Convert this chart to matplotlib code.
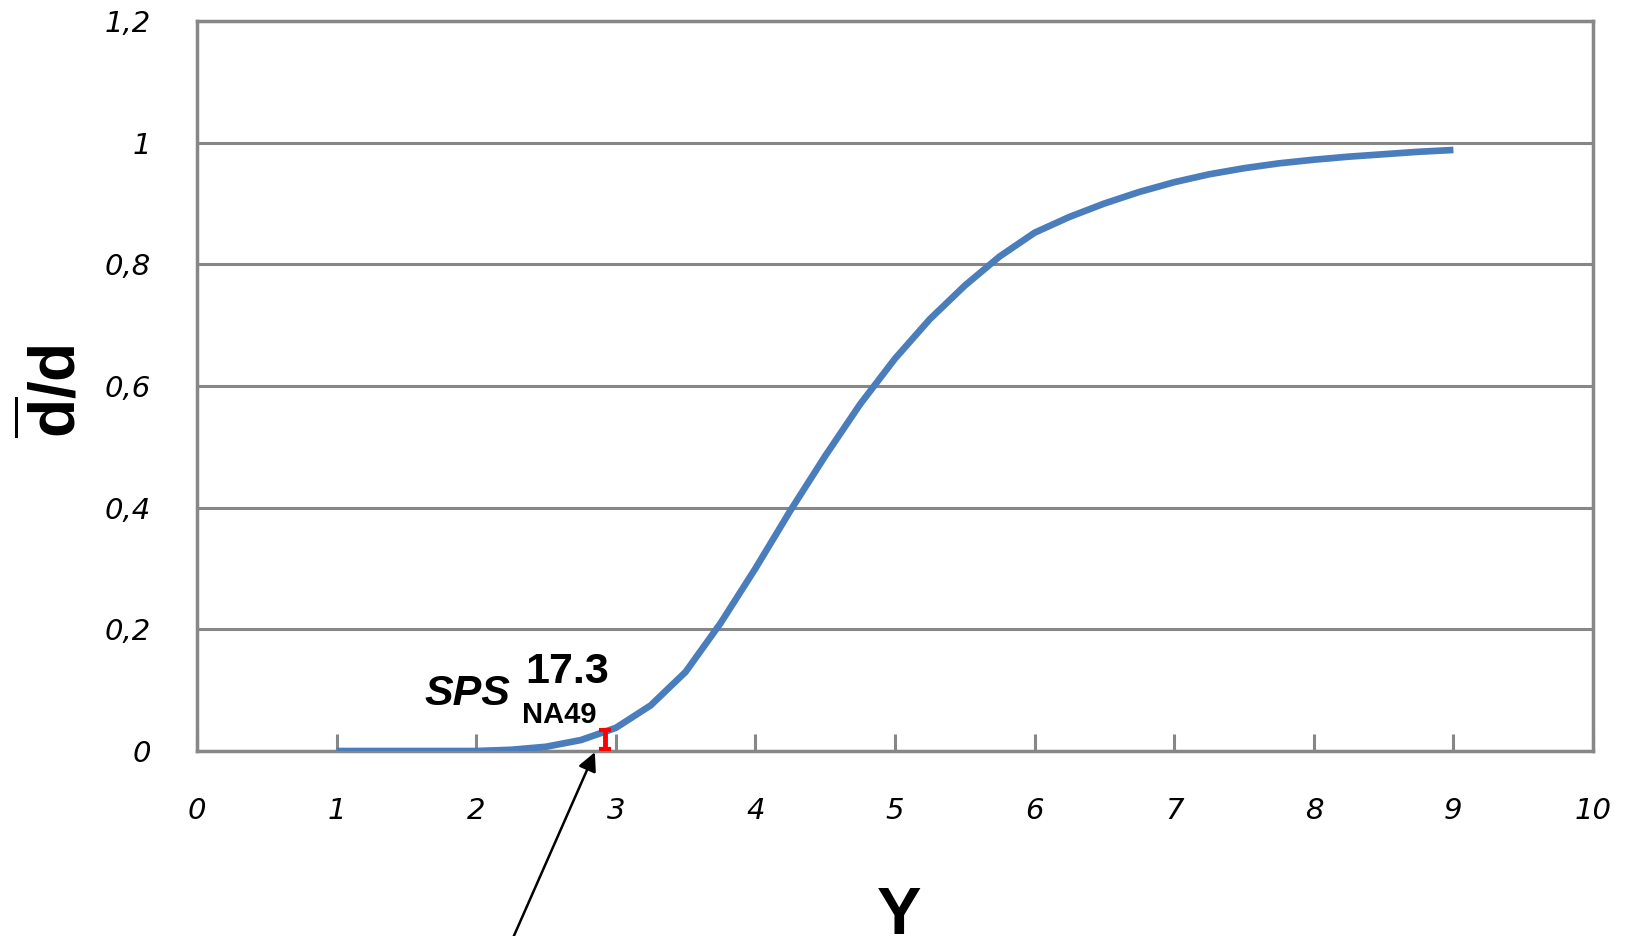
import matplotlib
matplotlib.use('Agg')
import matplotlib.pyplot as plt

# Curve
x_vals = [1, 1.25, 1.5, 1.75, 2, 2.25, 2.5, 2.75, 3, 3.25, 3.5, 3.75, 4, 4.25,
          4.5, 4.75, 5, 5.25, 5.5, 5.75, 6, 6.25, 6.5, 6.75, 7, 7.25, 7.5,
          7.75, 8, 8.25, 8.5, 8.75, 9]
y_vals = [0, 0, 0, 0, 0, 0.002, 0.007, 0.018, 0.038, 0.075, 0.13, 0.21, 0.30,
          0.395, 0.485, 0.57, 0.645, 0.71, 0.765, 0.813, 0.852, 0.878, 0.9,
          0.919, 0.935, 0.948, 0.958, 0.966, 0.972, 0.977, 0.981, 0.985, 0.988]

# NA49 point with error bar
pt_x = [2.92]
pt_y = [0.019]
pt_err = [0.016]

x_ticks = list(range(0, 11))
y_ticks = [0, 0.2, 0.4, 0.6, 0.8, 1.0, 1.2]
y_tick_labels = ['0', '0,2', '0,4', '0,6', '0,8', '1', '1,2']

plt.rcParams['mathtext.fontset'] = 'custom'
plt.rcParams['mathtext.bf'] = 'Liberation Sans:bold'
plt.rcParams['mathtext.rm'] = 'Liberation Sans:bold'

fig = plt.figure(figsize=(16.25, 9.36), dpi=100)
ax = fig.add_axes([197 / 1625, 185 / 936, 1396 / 1625, 730 / 936])

grey = '#878787'
ax.set_xlim(0, 10)
ax.set_ylim(0, 1.2)
ax.yaxis.grid(True, color=grey, linewidth=2.2)
ax.set_axisbelow(True)
for s in ax.spines.values():
    s.set_color(grey)
    s.set_linewidth(2.5)

ax.plot(x_vals, y_vals, color='#4a7dbb', linewidth=4.8, solid_capstyle='butt',
        solid_joinstyle='round', zorder=3)
ax.errorbar(pt_x, pt_y, yerr=pt_err, fmt='none', ecolor='#ff0000',
            elinewidth=3.5, capsize=4, capthick=3, zorder=4)

ax.set_xticks(x_ticks)
ax.set_xticklabels([str(v) for v in x_ticks], fontstyle='italic', fontsize=21)
ax.set_yticks(y_ticks)
ax.set_yticklabels(y_tick_labels, fontstyle='italic', fontsize=21)
ax.tick_params(axis='x', direction='in', length=12, width=2.2, color=grey, pad=33)
ax.tick_params(axis='y', length=0, pad=33)
ax.tick_params(top=False, right=False)

ax.text(1.63, 0.076, 'SPS', fontsize=31, fontweight='bold', fontstyle='italic',
        family='Liberation Sans')
ax.text(2.35, 0.112, '17.3', fontsize=31, fontweight='bold', family='Liberation Sans')
ax.text(2.33, 0.046, 'NA49', fontsize=21, fontweight='bold', family='Liberation Sans')

ax.annotate('', xy=(2.85, -0.002), xytext=(2.22, -0.33),
            arrowprops=dict(arrowstyle='-|>', color='black', lw=1.8,
                            mutation_scale=28, shrinkA=0, shrinkB=0),
            annotation_clip=False)

fig.text(55 / 1625, 1 - 391 / 936, r'$\overline{\mathbf{d}}\mathbf{/d}$', fontsize=46,
         rotation=90, ha='center', va='center')
fig.text(899 / 1625, 1 - 886 / 936, 'Y', fontsize=48, fontweight='bold',
         family='Liberation Sans', ha='center', va='top')

fig.savefig('out.png', dpi=100)
